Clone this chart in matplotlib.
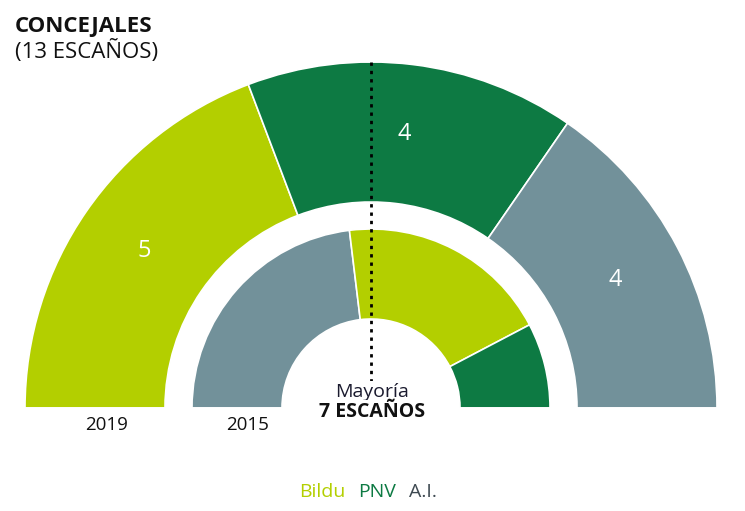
import matplotlib
matplotlib.use("Agg")
import matplotlib.pyplot as plt
import numpy as np

plt.rcParams['font.family'] = ['Open Sans', 'DejaVu Sans']

parties = ["Bildu", "PNV", "A.I."]
colors = {"Bildu": "#b3cf00", "PNV": "#0d7a43", "A.I.": "#72919a"}
legend_colors = {"Bildu": "#b3cf00", "PNV": "#0d7a43", "A.I.": "#3f4a52"}

order_2019 = ["Bildu", "PNV", "A.I."]
seats_2019 = [5, 4, 4]
order_2015 = ["A.I.", "Bildu", "PNV"]
seats_2015 = [6, 5, 2]
total_seats = 13
majority = 7
years = ["2019", "2015"]

W, H = 745, 511
fig = plt.figure(figsize=(W / 100, H / 100), dpi=100)
ax = fig.add_axes([0, 0, 1, 1])

def Y(p):
    return H - p

cx, cy = 371, Y(408)
r_out, w_out = 346, 140
r_in, w_in = 179, 90

ax.pie(seats_2019 + [total_seats], startangle=180, counterclock=False,
       radius=r_out, center=(cx, cy),
       colors=[colors[p] for p in order_2019] + ["none"],
       wedgeprops=dict(width=w_out, edgecolor="white", linewidth=1.2),
       frame=True)
ax.pie(seats_2015 + [total_seats], startangle=180, counterclock=False,
       radius=r_in, center=(cx, cy),
       colors=[colors[p] for p in order_2015] + ["none"],
       wedgeprops=dict(width=w_in, edgecolor="white", linewidth=1.2),
       frame=True)

# value labels in outer ring
cum = np.cumsum([0] + seats_2019)
rm = r_out - w_out / 2
for i, v in enumerate(seats_2019):
    mid = 180 - (cum[i] + v / 2) / total_seats * 180
    a = np.deg2rad(mid)
    ax.text(cx + rm * np.cos(a), cy + rm * np.sin(a), str(v), color="white",
            fontsize=17, ha="center", va="center")

# majority line
ax.plot([cx, cx], [Y(62), Y(406)], color="black", linestyle=(0, (1.2, 1.8)), linewidth=2)
box = dict(facecolor="white", edgecolor="none", pad=1.5)
ax.text(cx + 1, Y(392), "Mayoría", fontsize=14, ha="center", va="center",
        color="#1a1a2e", bbox=box)
ax.text(cx + 1, Y(412), f"{majority} ESCAÑOS", fontsize=14, ha="center", va="center",
        fontweight="bold", color="#111111", bbox=box)

# year labels
ax.text(107, Y(425), years[0], fontsize=13.5, ha="center", va="center", color="#111111")
ax.text(248, Y(425), years[1], fontsize=13.5, ha="center", va="center", color="#111111")

# title
ax.text(15, Y(26), "CONCEJALES", fontsize=16, fontweight="bold", ha="left", va="center",
        color="#111111")
ax.text(15, Y(51), "(13 ESCAÑOS)", fontsize=16, ha="left", va="center", color="#111111")

# legend
lx = 299
for p in parties:
    t = ax.text(lx, Y(492), p, fontsize=14, ha="left", va="center", color=legend_colors[p])
    fig.canvas.draw()
    bb = t.get_window_extent()
    lx += bb.width + 13

ax.set_xlim(0, W)
ax.set_ylim(0, H)
ax.set_aspect("auto")
ax.axis("off")
fig.savefig("out.png", dpi=100, facecolor="white")
